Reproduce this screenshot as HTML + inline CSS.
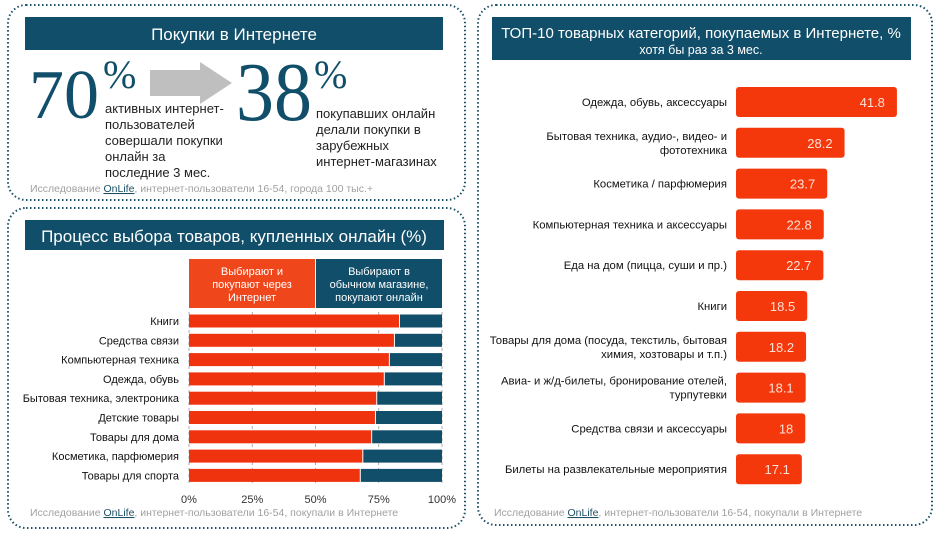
<!DOCTYPE html>
<html><head><meta charset="utf-8">
<style>
body{margin:0;background:#fff;width:939px;height:533px;overflow:hidden;font-family:"Liberation Sans",sans-serif;}
svg text{font-family:"Liberation Sans",sans-serif;}
</style></head>
<body>
<svg id="s" width="939" height="533" viewBox="0 0 939 533">
<g>
<rect x="8" y="5" width="457" height="195" rx="18" fill="none" stroke="#1a4f66" stroke-width="2" stroke-dasharray="1.5 2.5"/>
<rect x="25" y="17" width="418" height="33" fill="#104e69"/>
<text x="234" y="40" text-anchor="middle" fill="#fff" font-size="17">Покупки в Интернете</text>
<text x="29" y="118" fill="#104e69" font-size="70" style="font-family:'Liberation Serif',serif">70</text>
<text x="103" y="88" fill="#104e69" font-size="40" style="font-family:'Liberation Serif',serif">%</text>
<polygon points="150,70 200,70 200,62 232,83 200,104 200,96 150,96" fill="#bfbfbf"/>
<text x="236" y="120" fill="#104e69" font-size="84" textLength="76" lengthAdjust="spacingAndGlyphs" style="font-family:'Liberation Serif',serif">38</text>
<text x="314" y="88" fill="#104e69" font-size="40" style="font-family:'Liberation Serif',serif">%</text>
<g font-size="13" fill="#222">
<text x="105" y="113">активных интернет-</text><text x="105" y="129">пользователей</text><text x="105" y="145">совершали покупки</text><text x="105" y="161">онлайн за</text><text x="105" y="177">последние 3 мес.</text></g>
<g font-size="13" fill="#222">
<text x="316" y="118">покупавших онлайн</text><text x="316" y="134">делали покупки в</text><text x="316" y="150">зарубежных</text><text x="316" y="166">интернет-магазинах</text></g>
<text x="30" y="192" font-size="10.5" fill="#a0a0a0">Исследование <tspan fill="#1a4f66" text-decoration="underline">OnLife</tspan>, интернет-пользователи 16-54, города 100 тыс.+</text>
</g>

<g>
<rect x="8" y="208" width="457" height="320" rx="18" fill="none" stroke="#1a4f66" stroke-width="2" stroke-dasharray="1.5 2.5"/>
<rect x="25" y="220" width="419" height="30" fill="#104e69"/>
<text x="234" y="242" text-anchor="middle" fill="#fff" font-size="17">Процесс выбора товаров, купленных онлайн (%)</text>
<rect x="189" y="259" width="126" height="49" fill="#f0461b"/>
<rect x="316" y="259" width="126" height="49" fill="#104e69"/>
<g font-size="11" fill="#fff" text-anchor="middle">
<text x="252" y="275">Выбирают и</text><text x="252" y="288">покупают через</text><text x="252" y="301">Интернет</text>
<text x="379" y="275">Выбирают в</text><text x="379" y="288">обычном магазине,</text><text x="379" y="301">покупают онлайн</text></g>
<g id="lc"></g>
<text x="30" y="516" font-size="10.5" fill="#a0a0a0">Исследование <tspan fill="#1a4f66" text-decoration="underline">OnLife</tspan>, интернет-пользователи 16-54, покупали в Интернете</text>
</g>

<g>
<rect x="478" y="5" width="454" height="520" rx="18" fill="none" stroke="#1a4f66" stroke-width="2" stroke-dasharray="1.5 2.5"/>
<rect x="492" y="17" width="419" height="43" fill="#104e69"/>
<text x="701" y="38" text-anchor="middle" fill="#fff" font-size="15">ТОП-10 товарных категорий, покупаемых в Интернете, %</text>
<text x="701" y="54" text-anchor="middle" fill="#fff" font-size="12.5">хотя бы раз за 3 мес.</text>
<g id="rc"></g>
<text x="494" y="516" font-size="10.5" fill="#a0a0a0">Исследование <tspan fill="#1a4f66" text-decoration="underline">OnLife</tspan>, интернет-пользователи 16-54, покупали в Интернете</text>
</g>
</svg>
<script>
const leftCats=["Книги","Средства связи","Компьютерная  техника","Одежда,  обувь","Бытовая техника, электроника","Детские товары","Товары  для дома","Косметика,  парфюмерия","Товары  для спорта"];
const leftOnline=[83,81,79,77,74,73.5,72,68.5,67.5];
const leftTicks=["0%","25%","50%","75%","100%"];
const tickVals=[0,25,50,75,100];
const rightCats=[["Одежда, обувь, аксессуары"],["Бытовая техника, аудио-, видео- и","фототехника"],["Косметика / парфюмерия"],["Компьютерная техника и аксессуары"],["Еда на дом (пицца, суши и пр.)"],["Книги"],["Товары для дома (посуда, текстиль, бытовая","химия, хозтовары и т.п.)"],["Авиа- и ж/д-билеты, бронирование отелей,","турпутевки"],["Средства связи и аксессуары"],["Билеты на развлекательные мероприятия"]];
const rightVals=[41.8,28.2,23.7,22.8,22.7,18.5,18.2,18.1,18,17.1];
const NS="http://www.w3.org/2000/svg";
function mk(p,t,a){const e=document.createElementNS(NS,t);for(const k in a)e.setAttribute(k,a[k]);p.appendChild(e);return e;}
const lc=document.getElementById('lc');
const lx=v=>189+v/100*253;
const ly=i=>321+i*19.3;
tickVals.forEach((v,i)=>{
  const g=mk(lc,'line',{x1:lx(v),x2:lx(v),y1:312,y2:485,stroke:'#999','stroke-dasharray':'3 3','stroke-width':0.8});
  
  
  const t=mk(lc,'text',{x:lx(v),y:503,'text-anchor':'middle','font-size':11,fill:'#333'});
  t.textContent=leftTicks[i];
  
  
});
leftCats.forEach((c,i)=>{
  const y=ly(i);
  const a=mk(lc,'rect',{x:lx(0),y:y-6.5,width:lx(leftOnline[i])-lx(0),height:13,fill:'#f0330f'});
  
  
  const b=mk(lc,'rect',{x:lx(leftOnline[i])+1,y:y-6.5,width:lx(100)-lx(leftOnline[i])-1,height:13,fill:'#104e69'});
  
  
  const t=mk(lc,'text',{x:179,y:y+4,'text-anchor':'end','font-size':11,fill:'#111'});
  t.textContent=c;
  
  
});
const rc=document.getElementById('rc');
const rx=v=>736+v*3.85;
const ry=i=>102+i*40.8;
rightCats.forEach((lines,i)=>{
  const y=ry(i);
  const r=mk(rc,'rect',{x:rx(0),y:y-15,width:rx(rightVals[i])-rx(0),height:30,rx:3,fill:'#f4380c'});
  
  
  const v=mk(rc,'text',{x:rx(rightVals[i])-12,y:y+5,'text-anchor':'end','font-size':13,fill:'#fde0d6'});
  v.textContent=rightVals[i];
  
  
  const off=lines.length>1?-3:4;
  lines.forEach((ln,j)=>{
    const t=mk(rc,'text',{x:727,y:y+off+j*14,'text-anchor':'end','font-size':11.3,fill:'#111'});
    t.textContent=ln;
    
    
  });
});
</script>
</body></html>
